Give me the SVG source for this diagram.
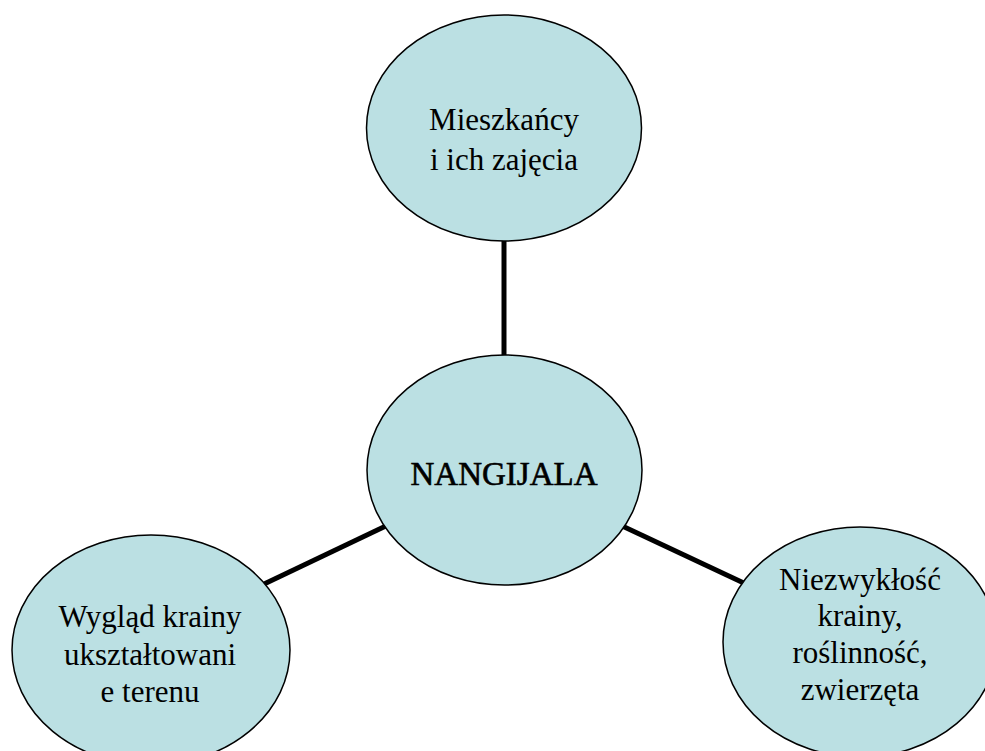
<svg xmlns="http://www.w3.org/2000/svg" width="985" height="751" viewBox="0 0 985 751">
<style>
.n{fill:#BBE0E3;stroke:#000;stroke-width:1.5}
.t{font-family:'Liberation Serif',serif;font-size:31px;fill:#000;text-anchor:middle}
.c{stroke:#000;stroke-width:5;fill:none}
</style>
<rect width="985" height="751" fill="#fff"/>
<g id="connectors">
<line class="c" x1="504" y1="236" x2="504" y2="360"/>
<line class="c" x1="390" y1="524" x2="262" y2="585"/>
<line class="c" x1="618" y1="524" x2="748" y2="585"/>
</g>
<g id="top">
<ellipse class="n" cx="504" cy="128" rx="137.5" ry="113"/>
<text class="t" x="504" y="130">Mieszkańcy</text>
<text class="t" x="504" y="170">i ich zajęcia</text>
</g>
<g id="center">
<ellipse class="n" cx="504.5" cy="470" rx="137.5" ry="115"/>
<text class="t" x="504" y="485" style="font-size:33px" stroke="#000" stroke-width="0.6">NANGIJALA</text>
</g>
<g id="left">
<ellipse class="n" cx="151" cy="650" rx="139" ry="115"/>
<text class="t" x="150" y="627">Wygląd krainy</text>
<text class="t" x="150" y="665">ukształtowani</text>
<text class="t" x="150" y="702">e terenu</text>
</g>
<g id="right">
<ellipse class="n" cx="860" cy="642" rx="137" ry="115"/>
<text class="t" x="860" y="590">Niezwykłość</text>
<text class="t" x="860" y="626">krainy,</text>
<text class="t" x="860" y="663">roślinność,</text>
<text class="t" x="860" y="700">zwierzęta</text>
</g>
</svg>
